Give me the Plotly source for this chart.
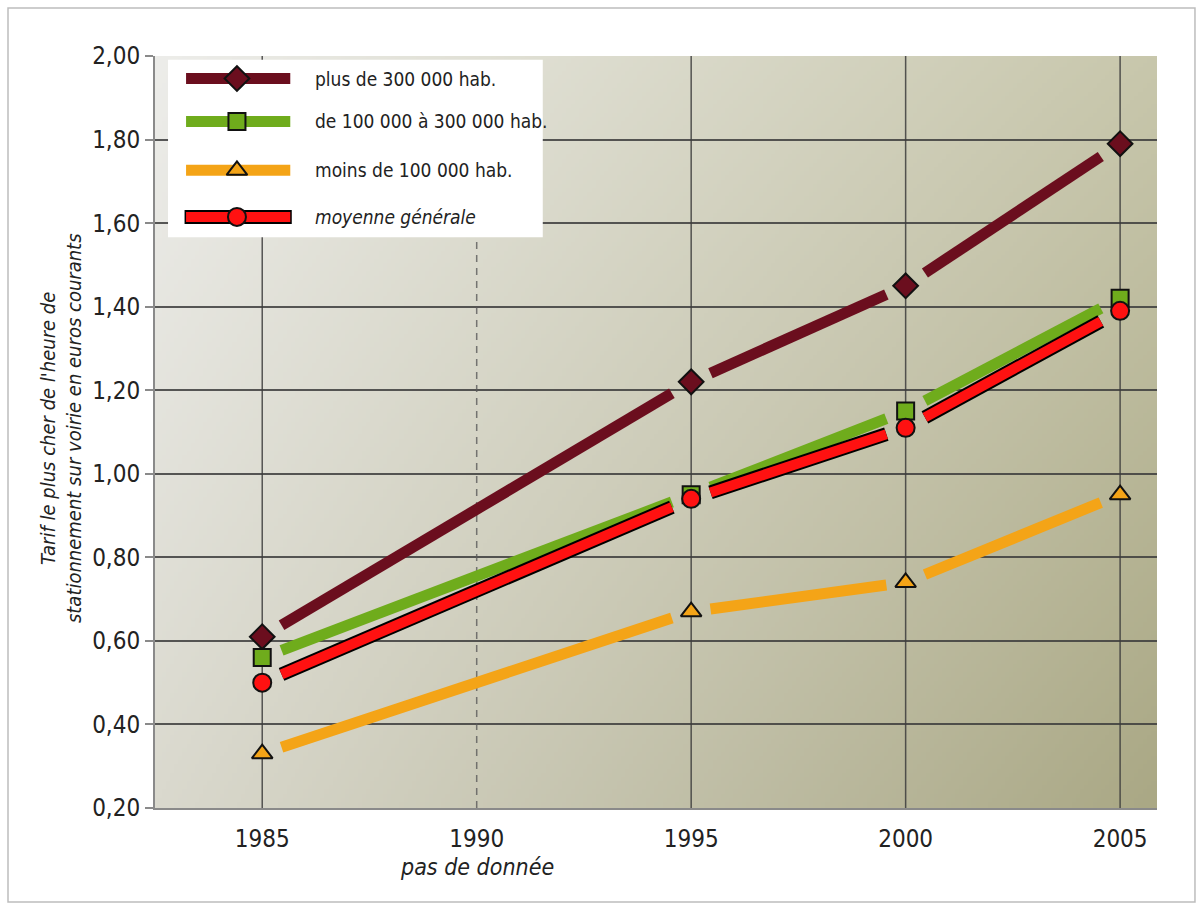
import base64
import struct
import zlib

import numpy as np
import plotly.graph_objects as go

# ---------------- data ----------------
years = [1985, 1995, 2000, 2005]
tick_years = [1985, 1990, 1995, 2000, 2005]
tick_labels = ["1985", "1990", "1995", "2000", "2005"]
y_ticks = [0.20, 0.40, 0.60, 0.80, 1.00, 1.20, 1.40, 1.60, 1.80, 2.00]

plus_300k = [0.61, 1.22, 1.45, 1.79]
de_100k_300k = [0.56, 0.95, 1.15, 1.42]
moins_100k = [0.33, 0.67, 0.74, 0.95]
moyenne = [0.50, 0.94, 1.11, 1.39]

series_names = [
    "plus de 300 000 hab.",
    "de 100 000 à 300 000 hab.",
    "moins de 100 000 hab.",
    "<i>moyenne générale</i>",
]
no_data_label = "pas de donnée"
y_title = "Tarif le plus cher de l'heure de<br>stationnement sur voirie en euros courants"

# ---------------- styles ----------------
FONT = "Liberation Sans Narrow, Arial Narrow, DejaVu Sans Condensed, Liberation Sans, sans-serif"
C_DARK = "#6b0e1e"
C_GREEN = "#6fac1c"
C_ORANGE = "#f4a417"
C_RED = "#ff1111"
GRID = "rgba(60,60,60,0.85)"
X_RANGE = [1982.5, 2005.86]
Y_RANGE = [0.2, 2.0]
GAP = 0.45  # years of empty space around each marker


def gapped(xs, ys, gap=GAP):
    sx, sy = [], []
    for i in range(len(xs) - 1):
        x0, x1, y0, y1 = xs[i], xs[i + 1], ys[i], ys[i + 1]
        f0 = gap / (x1 - x0)
        f1 = 1 - f0
        sx += [x0 + f0 * (x1 - x0), x0 + f1 * (x1 - x0), None]
        sy += [y0 + f0 * (y1 - y0), y0 + f1 * (y1 - y0), None]
    return sx, sy


def gradient_png(w=240, h=180):
    tl = np.array([237, 237, 234], float)
    tr = np.array([200, 199, 172], float)
    bl = np.array([218, 217, 206], float)
    br = np.array([170, 168, 133], float)
    u = np.linspace(0, 1, w)[None, :, None]
    v = np.linspace(0, 1, h)[:, None, None]
    img = (1 - v) * ((1 - u) * tl + u * tr) + v * ((1 - u) * bl + u * br)
    img = np.clip(img, 0, 255).astype(np.uint8)
    raw = b"".join(b"\x00" + img[r].tobytes() for r in range(h))

    def chunk(t, d):
        return struct.pack(">I", len(d)) + t + d + struct.pack(">I", zlib.crc32(t + d) & 0xFFFFFFFF)

    png = (b"\x89PNG\r\n\x1a\n"
           + chunk(b"IHDR", struct.pack(">IIBBBBB", w, h, 8, 2, 0, 0, 0))
           + chunk(b"IDAT", zlib.compress(raw, 9))
           + chunk(b"IEND", b""))
    return "data:image/png;base64," + base64.b64encode(png).decode()


fig = go.Figure()

# vertical grid lines (dashed where no data)
for t in tick_years:
    has_data = t in years
    fig.add_trace(go.Scatter(
        x=[t, t], y=Y_RANGE, mode="lines", hoverinfo="skip", showlegend=False,
        line=dict(color=GRID if has_data else "rgba(90,90,90,0.8)", width=1.5,
                  dash="solid" if has_data else "7px,6px")))

# line segments
specs = [
    (plus_300k, C_DARK, 11),
    (moins_100k, C_ORANGE, 11),
    (de_100k_300k, C_GREEN, 11),
]
for vals, col, w in specs:
    sx, sy = gapped(years, vals)
    fig.add_trace(go.Scatter(x=sx, y=sy, mode="lines", showlegend=False, hoverinfo="skip",
                             line=dict(color=col, width=w)))
sx, sy = gapped(years, moyenne)
fig.add_trace(go.Scatter(x=sx, y=sy, mode="lines", showlegend=False, hoverinfo="skip",
                         line=dict(color="#000000", width=14)))
fig.add_trace(go.Scatter(x=sx, y=sy, mode="lines", showlegend=False, hoverinfo="skip",
                         line=dict(color=C_RED, width=10)))

# markers
marker_specs = [
    (plus_300k, C_DARK, "diamond", 19, series_names[0]),
    (moins_100k, C_ORANGE, "triangle-up", 18, series_names[2]),
    (de_100k_300k, C_GREEN, "square", 17, series_names[1]),
    (moyenne, C_RED, "circle", 18, series_names[3]),
]
for vals, col, sym, size, nm in marker_specs:
    fig.add_trace(go.Scatter(x=years, y=vals, mode="markers", name=nm, showlegend=False,
                             marker=dict(symbol=sym, size=size, color=col,
                                         line=dict(color="#111111", width=2))))

# ---------------- custom legend (overlay axes 0..1) ----------------
LB_X0, LB_X1, LB_Y0, LB_Y1 = 0.013, 0.387, 0.759, 0.995
ROWS = [0.970, 0.913, 0.848, 0.786]
LS_X0, LS_X1, LM_X, LT_X = 0.031, 0.135, 0.0818, 0.158

fig.add_trace(go.Scatter(x=[LB_X0, LB_X1, LB_X1, LB_X0, LB_X0], y=[LB_Y0, LB_Y0, LB_Y1, LB_Y1, LB_Y0],
                         xaxis="x2", yaxis="y2", mode="lines", fill="toself", fillcolor="white",
                         line=dict(width=0, color="white"), hoverinfo="skip", showlegend=False))
leg = [
    (C_DARK, "diamond", 19, 11),
    (C_GREEN, "square", 17, 11),
    (C_ORANGE, "triangle-up", 18, 11),
    (C_RED, "circle", 18, 10),
]
for (col, sym, size, w), ry, nm in zip(leg, ROWS, series_names):
    if col == C_RED:
        fig.add_trace(go.Scatter(x=[LS_X0 - 0.0015, LS_X1 + 0.0015], y=[ry, ry], xaxis="x2", yaxis="y2",
                                 mode="lines", line=dict(color="#000", width=14),
                                 hoverinfo="skip", showlegend=False))
    fig.add_trace(go.Scatter(x=[LS_X0, LS_X1], y=[ry, ry], xaxis="x2", yaxis="y2", mode="lines",
                             line=dict(color=col, width=w), hoverinfo="skip", showlegend=False))
    fig.add_trace(go.Scatter(x=[LM_X], y=[ry], xaxis="x2", yaxis="y2", mode="markers",
                             marker=dict(symbol=sym, size=size, color=col,
                                         line=dict(color="#111111", width=2)),
                             hoverinfo="skip", showlegend=False))
    fig.add_annotation(x=LT_X, y=ry, xref="paper", yref="paper", text=nm, showarrow=False,
                       xanchor="left", yanchor="middle",
                       font=dict(family=FONT, size=19, color="#222222"))

# axis title & note
fig.add_annotation(x=-0.094, y=0.505, xref="paper", yref="paper", text="<i>" + y_title + "</i>",
                   textangle=-90, showarrow=False, xanchor="center", yanchor="middle",
                   font=dict(family=FONT, size=20, color="#222222"))
fig.add_annotation(x=1990, y=-0.078, xref="x", yref="paper", text="<i>" + no_data_label + "</i>",
                   showarrow=False, xanchor="center", yanchor="middle",
                   font=dict(family=FONT, size=23, color="#222222"))

# outer frame
fig.add_shape(type="rect", xref="paper", yref="paper", x0=-0.1467, x1=1.0379, y0=-0.125, y1=1.0638,
              line=dict(color="#bdbdbd", width=1.5), fillcolor="rgba(0,0,0,0)", layer="above")

fig.add_layout_image(dict(source=gradient_png(), xref="x", yref="y", x=X_RANGE[0], y=Y_RANGE[1],
                          sizex=X_RANGE[1] - X_RANGE[0], sizey=Y_RANGE[1] - Y_RANGE[0],
                          sizing="stretch", xanchor="left", yanchor="top", layer="below"))

fig.update_layout(
    width=1202, height=911,
    margin=dict(l=155, r=45, t=56, b=103),
    paper_bgcolor="white", plot_bgcolor="#dcdaca",
    separators=", ",
    showlegend=False,
    font=dict(family=FONT, color="#222222"),
    xaxis=dict(range=X_RANGE, tickvals=tick_years, ticktext=tick_labels, showgrid=False,
               zeroline=False, showline=True, linecolor="#8a8a8a", linewidth=2, ticks="",
               ticklabelstandoff=8,
               tickfont=dict(family=FONT, size=24, color="#222222"), fixedrange=True),
    yaxis=dict(range=Y_RANGE, tickvals=y_ticks, tickformat=".2f", showgrid=True, gridcolor=GRID,
               gridwidth=1.5, zeroline=False, showline=True, linecolor="#8a8a8a", linewidth=2,
               ticks="outside", ticklen=8, tickwidth=2, tickcolor="#8a8a8a",
               tickfont=dict(family=FONT, size=24, color="#222222"), fixedrange=True),
    xaxis2=dict(overlaying="x", range=[0, 1], visible=False, fixedrange=True),
    yaxis2=dict(overlaying="y", range=[0, 1], visible=False, fixedrange=True),
)

fig.write_html("out.html")
